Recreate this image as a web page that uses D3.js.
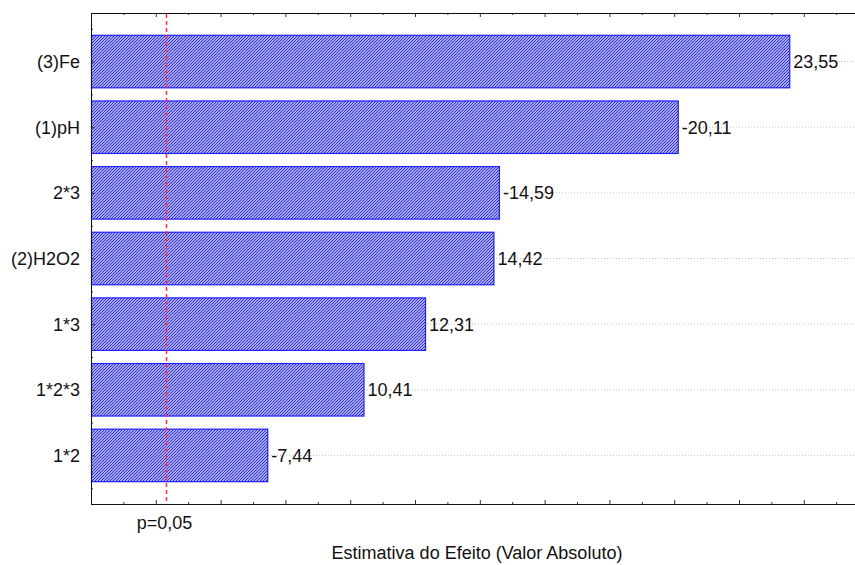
<!DOCTYPE html>
<html>
<head>
<meta charset="utf-8">
<script src="https://cdn.jsdelivr.net/npm/d3@7"></script>
<style>
  html, body { margin: 0; padding: 0; background: #fff; }
  svg { display: block; font-family: "Liberation Sans", Arial, sans-serif; }
</style>
</head>
<body>
<svg id="chart" width="855" height="565"></svg>
<script>
const categories = ["(3)Fe", "(1)pH", "2*3", "(2)H2O2", "1*3", "1*2*3", "1*2"];
const effects = [23.55, 20.11, 14.59, 14.42, 12.31, 10.41, 7.44];
const valueLabels = ["23,55", "-20,11", "-14,59", "14,42", "12,31", "10,41", "-7,44"];
const majorTicks = [2, 4, 6, 8, 10, 12, 14, 16, 18, 20, 22, 24, 26];
const minorTicks = [3, 5, 7, 9, 11, 13, 15, 17, 19, 21, 23, 25];
const pCritical = 4.303;
const pLabel = "p=0,05";
const xTitle = "Estimativa do Efeito (Valor Absoluto)";

(function () {
const svg = d3.select("#chart");
const W = 855;
const mLeft = 91, mTop = 13, mBottom = 504;

const x = d3.scaleLinear().domain([2, 26]).range([mLeft, mLeft + 24 * 32.4]);
const y = d3.scaleBand().domain(categories).range([mTop, mBottom])
  .paddingInner(0.2).paddingOuter(0.34);

// hatch pattern
const defs = svg.append("defs");
const pat = defs.append("pattern").attr("id", "hatch")
  .attr("patternUnits", "userSpaceOnUse").attr("width", 3).attr("height", 3);
pat.append("rect").attr("width", 3).attr("height", 3).attr("fill", "#e2e2ff");
pat.append("path").attr("d", "M-1,1 l2,-2 M0,3 l3,-3 M2,4 l2,-2")
  .attr("stroke", "#2a2ad8").attr("stroke-width", 1.2);

// gridlines
svg.append("g").selectAll("line").data(categories).join("line")
  .attr("x1", mLeft).attr("x2", W)
  .attr("y1", d => y(d) + y.bandwidth() / 2).attr("y2", d => y(d) + y.bandwidth() / 2)
  .attr("stroke", "#c4c4c4").attr("stroke-width", 1).attr("stroke-dasharray", "1,2");

// bars
const data = categories.map((c, i) => ({ c, v: effects[i], t: valueLabels[i] }));
svg.append("g").selectAll("rect").data(data).join("rect")
  .attr("x", mLeft + 0.5).attr("y", d => y(d.c))
  .attr("width", d => x(d.v) - mLeft).attr("height", y.bandwidth())
  .attr("fill", "url(#hatch)").attr("stroke", "#1f1fff").attr("stroke-width", 1.2);

// value labels
svg.append("g").selectAll("text").data(data).join("text")
  .attr("x", d => x(d.v) + 4).attr("y", d => y(d.c) + y.bandwidth() / 2)
  .attr("dy", "0.36em").attr("font-size", 18).attr("fill", "#111")
  .text(d => d.t);

// category labels
svg.append("g").selectAll("text").data(categories).join("text")
  .attr("x", 80).attr("y", d => y(d) + y.bandwidth() / 2)
  .attr("dy", "0.36em").attr("text-anchor", "end").attr("font-size", 18).attr("fill", "#111")
  .text(d => d);

// axes (ticks inward)
function styleAxis(g) {
  g.selectAll(".tick line").attr("stroke", "#333");
  g.selectAll(".tick text").remove();
  g.select(".domain").remove();
}
svg.append("g").attr("transform", `translate(0,${mBottom})`)
  .call(d3.axisBottom(x).tickValues(majorTicks).tickSize(-4).tickFormat("")).call(styleAxis);
svg.append("g").attr("transform", `translate(0,${mBottom})`)
  .call(d3.axisBottom(x).tickValues(minorTicks).tickSize(-2).tickFormat("")).call(styleAxis);
svg.append("g").attr("transform", `translate(0,${mTop})`)
  .call(d3.axisTop(x).tickValues(majorTicks).tickSize(-4).tickFormat("")).call(styleAxis);
svg.append("g").attr("transform", `translate(0,${mTop})`)
  .call(d3.axisTop(x).tickValues(minorTicks).tickSize(-2).tickFormat("")).call(styleAxis);

// y ticks: major at category centers, minor at quarter steps
const yc = d => y(d) + y.bandwidth() / 2;
const yPos = d3.scaleLinear().domain([0, categories.length - 1]).range([yc(categories[0]), yc(categories[categories.length - 1])]);
const yMinor = d3.range(-2, 4 * (categories.length - 1) + 3).map(k => k / 4).filter(k => k % 1 !== 0)
  .filter(k => yPos(k) > mTop + 1 && yPos(k) < mBottom - 1);
svg.append("g").attr("transform", `translate(${mLeft},0)`)
  .call(d3.axisLeft(yPos).tickValues(d3.range(categories.length)).tickSize(-4).tickFormat("")).call(styleAxis);
svg.append("g").attr("transform", `translate(${mLeft},0)`)
  .call(d3.axisLeft(yPos).tickValues(yMinor).tickSize(-2).tickFormat("")).call(styleAxis);

// frame lines
svg.append("line").attr("x1", mLeft).attr("x2", W).attr("y1", mTop + 0.5).attr("y2", mTop + 0.5).attr("stroke", "#111");
svg.append("line").attr("x1", mLeft).attr("x2", W).attr("y1", mBottom + 0.5).attr("y2", mBottom + 0.5).attr("stroke", "#111");
svg.append("line").attr("x1", mLeft + 0.5).attr("x2", mLeft + 0.5).attr("y1", mTop).attr("y2", mBottom + 1).attr("stroke", "#111");

// p line
const px = Math.round(x(pCritical)) + 0.5;
svg.append("line").attr("x1", px).attr("x2", px)
  .attr("y1", mTop + 1).attr("y2", mBottom)
  .attr("stroke", "#ff3030").attr("stroke-width", 1.5).attr("stroke-dasharray", "4,3");
svg.append("text").attr("x", x(pCritical) - 1).attr("y", 529).attr("text-anchor", "middle")
  .attr("font-size", 18).attr("fill", "#111").text(pLabel);

// x title
svg.append("text").attr("x", 477).attr("y", 559).attr("text-anchor", "middle")
  .attr("font-size", 18).attr("fill", "#111").text(xTitle);
})();
</script>
</body>
</html>
